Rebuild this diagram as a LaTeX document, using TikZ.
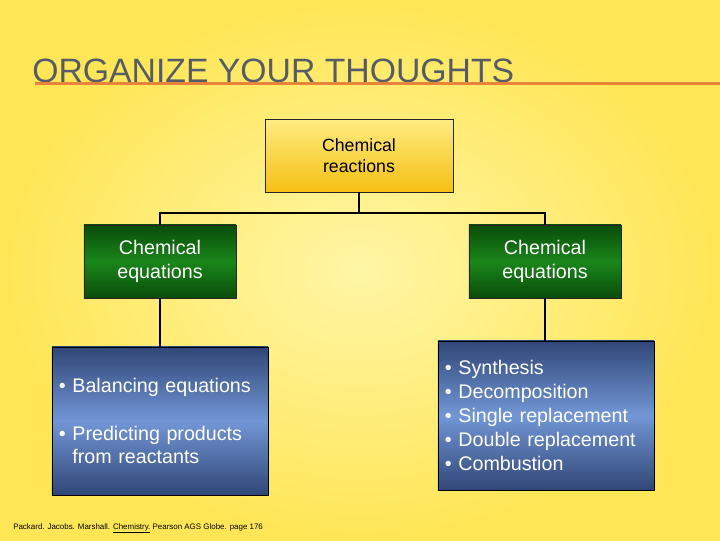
\documentclass[tikz,border=0pt]{standalone}
\usepackage{fontspec}
\setmainfont{Liberation Sans}
\definecolor{bgin}{HTML}{FFF6A6}
\definecolor{bgout}{HTML}{FFE656}
\definecolor{title}{HTML}{555C68}
\definecolor{rule}{HTML}{E8843A}
\definecolor{goldtop}{HTML}{FFEC82}
\definecolor{goldbot}{HTML}{F4C014}
\definecolor{grdark}{HTML}{0A4C0A}
\definecolor{grmid}{HTML}{1A861A}
\definecolor{bldark}{HTML}{304676}
\definecolor{blmid}{HTML}{7296D6}
\tikzset{topbox/.style={draw=black!85,top color=goldtop,bottom color=goldbot,align=center,minimum width=4.7cm,minimum height=1.825cm,font=\fontsize{12.6}{15}\selectfont},eqbox/.style={draw=black!85,top color=grdark,bottom color=grdark,middle color=grmid,text=white,align=center,minimum width=3.8cm,minimum height=1.825cm,font=\fontsize{14}{17}\selectfont},listbox/.style={draw=black,top color=bldark,bottom color=bldark,middle color=blmid,text=white,align=left,text width=5.05cm,inner xsep=0.175cm,minimum height=3.7cm,font=\fontsize{14}{17}\selectfont},link/.style={line width=2pt,black}}

\begin{document}
\begin{tikzpicture}[x=0.025cm,y=-0.025cm]
\shade[inner color=bgin,outer color=bgout] (0,0) rectangle (720,540);
\useasboundingbox (0,0) rectangle (720,540);
\node[anchor=base west,text=title,font=\fontsize{24}{28}\selectfont,inner sep=0pt] (head) at (32,82) {ORGANIZE YOUR THOUGHTS};
\draw[rule,line width=1.7pt] (35,83.5) -- (720,83.5);
\node[topbox] (top) at (359,155.5) {Chemical\\reactions};
\node[eqbox] (gl) at (160,261.5) {Chemical\\equations};
\node[eqbox] (gr) at (545,261.5) {Chemical\\equations};
\node[listbox] (bl) at (160,421) {• Balancing equations\\[17pt]• Predicting products\\\phantom{• }from reactants};
\node[listbox,minimum height=3.725cm] (br) at (546,415.5) {• Synthesis\\• Decomposition\\• Single replacement\\• Double replacement\\• Combustion};
\coordinate (bar) at (359,213);
\draw[link](top.south)--(bar);\draw[link](gl.north)|-(bar)-|(gr.north);
\draw[link](gl.south)--(bl.north);\draw[link](gr.south)--(gr.south|-br.north);
\node[anchor=base west,inner sep=0pt,font=\fontsize{5.65}{6}\selectfont] (src) at (13,529) {Packard. Jacobs. Marshall. \underline{Chemistry.} Pearson AGS Globe. page 176};
\end{tikzpicture}
\end{document}
